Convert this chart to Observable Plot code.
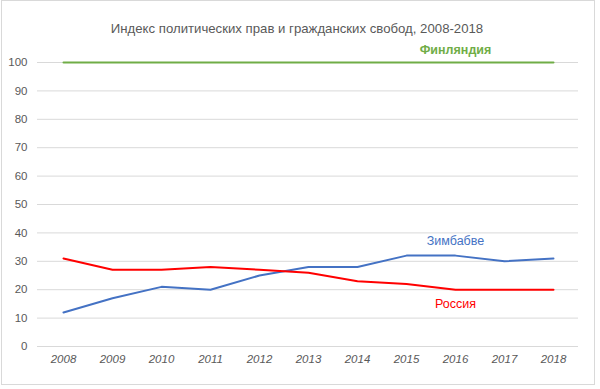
<!DOCTYPE html>
<html>
<head>
<meta charset="utf-8">
<script src="https://cdn.jsdelivr.net/npm/d3@7"></script>
<script src="https://cdn.jsdelivr.net/npm/@observablehq/plot@0.6"></script>
<style>
  html, body { margin: 0; padding: 0; background: #fff; }
  #wrap { position: relative; width: 600px; height: 389px; }
  #border { position: absolute; left: 1px; top: 0px; width: 594px; height: 385px; border: 1px solid #d9d9d9; box-sizing: border-box; pointer-events: none; }
</style>
</head>
<body>
<div id="wrap"><div id="border"></div></div>
<script>
const years = [2008, 2009, 2010, 2011, 2012, 2013, 2014, 2015, 2016, 2017, 2018];
const finland = [100, 100, 100, 100, 100, 100, 100, 100, 100, 100, 100];
const zimbabwe = [12, 17, 21, 20, 25, 28, 28, 32, 32, 30, 31];
const russia = [31, 27, 27, 28, 27, 26, 23, 22, 20, 20, 20];
const yTicks = [0, 10, 20, 30, 40, 50, 60, 70, 80, 90, 100];
const title = "Индекс политических прав и гражданских свобод, 2008-2018";
const seriesNames = ["Финляндия", "Зимбабве", "Россия"];
const seriesColors = ["#70ad47", "#4472c4", "#ff0000"];
const labelX = [2016, 2016, 2016];
const labelY = [104.5, 37, 15];

const seriesValues = [finland, zimbabwe, russia];
const data = seriesNames.flatMap((name, i) =>
  years.map((yr, j) => ({ name, year: yr, value: seriesValues[i][j] })));
const labels = seriesNames.map((name, i) => ({ name, x: labelX[i], y: labelY[i], color: seriesColors[i] }));

const font = "'Liberation Sans', Arial, sans-serif";

const chart = Plot.plot({
  width: 600,
  height: 389,
  marginLeft: 37,
  marginRight: 22,
  marginTop: 62,
  marginBottom: 43,
  style: { fontFamily: font, background: "transparent" },
  x: { type: "point", domain: years, padding: 0.5, label: null },
  y: { domain: [0, 100], label: null },
  color: { domain: seriesNames, range: seriesColors },
  marks: [
    Plot.ruleY(yTicks, { stroke: "#d9d9d9", strokeWidth: 1 }),
    Plot.axisY({ ticks: yTicks, tickSize: 0, tickPadding: 10, fontSize: 11.5, color: "#595959", label: null }),
    Plot.axisX({ ticks: years, tickSize: 0, tickPadding: 8, fontSize: 11.5, fontStyle: "italic", color: "#595959", label: null, tickFormat: d => String(d) }),
    Plot.line(data, { x: "year", y: "value", z: "name", stroke: "name", strokeWidth: 2, curve: "linear" }),
    Plot.text(labels.slice(0, 1), { x: "x", y: "y", text: "name", fill: "color", fontSize: 12.5, fontWeight: "bold" }),
    Plot.text(labels.slice(1), { x: "x", y: "y", text: "name", fill: "color", fontSize: 12.5 }),
    Plot.text([title], { frameAnchor: "top", dx: -11, dy: -39, text: d => d, fontSize: 13.2, fill: "#595959" })
  ]
});
document.getElementById("wrap").prepend(chart);
</script>
</body>
</html>
